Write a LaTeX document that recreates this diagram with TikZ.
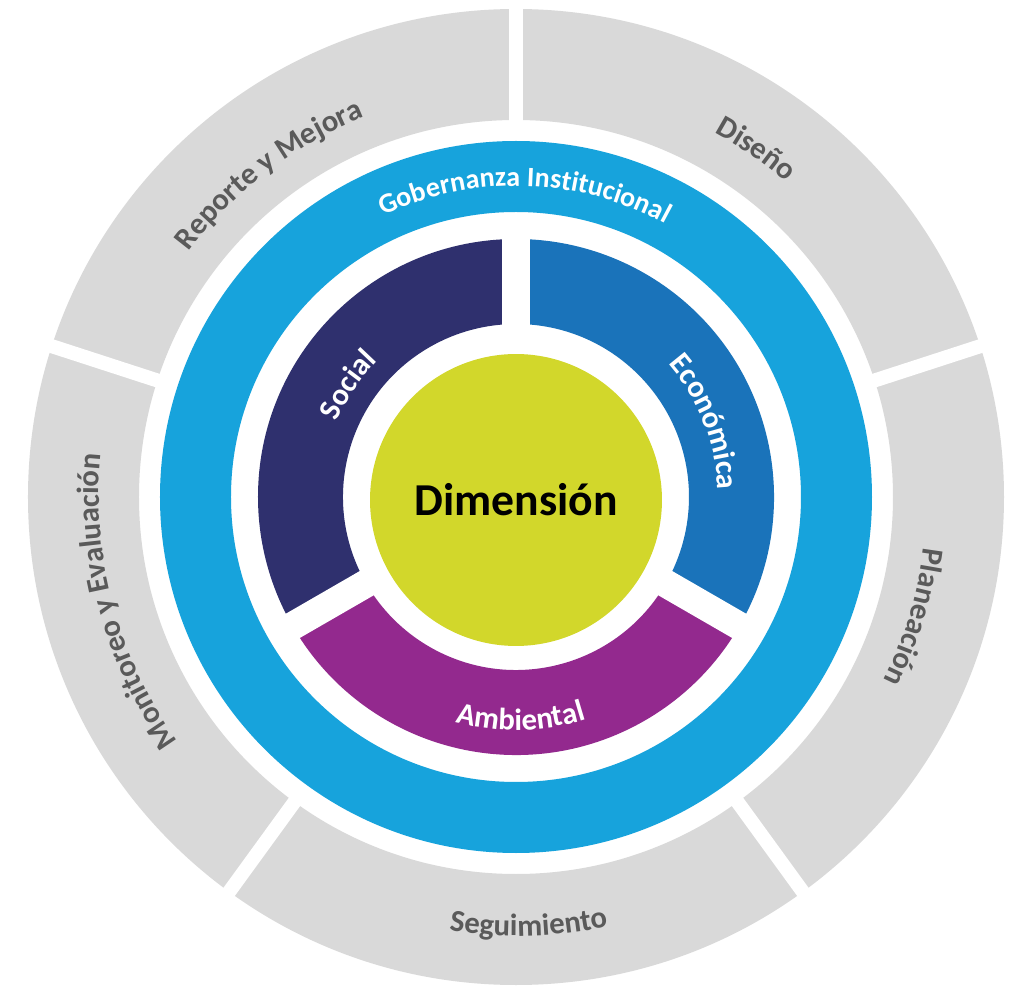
\documentclass[tikz,border=0pt]{standalone}
\usepackage{fontspec}
\setmainfont{Carlito}
\usetikzlibrary{decorations.text}
\definecolor{stagegrey}{HTML}{D9D9D9}
\definecolor{stageink}{HTML}{5A5A5A}
\definecolor{govblue}{HTML}{17A3DC}
\definecolor{socialnavy}{HTML}{2F306E}
\definecolor{econblue}{HTML}{1A73BA}
\definecolor{ambpurple}{HTML}{93298E}
\definecolor{dimyellow}{HTML}{D2D72B}
\newcommand{\stagefont}{\color{stageink}\bfseries\fontsize{17.5}{20}\selectfont}
\newcommand{\pillarfont}{\color{white}\bfseries\fontsize{17.5}{20}\selectfont}
\newcommand{\govfont}{\color{white}\bfseries\fontsize{16}{19}\selectfont}
\tikzset{
  band/.style     = { even odd rule },
  stage/.style    = { band, fill=stagegrey },
  gov/.style      = { band, fill=govblue },
  cut/.style      = { draw=white, line cap=butt },
  stagecut/.style = { cut, line width=0.28cm },
  pillarcut/.style= { cut, line width=0.56cm },
}
\tikzset{
  social/.style   = { fill=socialnavy },
  economic/.style = { fill=econblue },
  ambient/.style  = { fill=ambpurple },
  core/.style     = { circle, fill=dimyellow, minimum size=5.84cm, inner sep=0pt,
                      font=\bfseries\fontsize{26}{30}\selectfont },
  along/.style    = { decorate, decoration={text along path, text align=center, text={#1}} }
}

\begin{document}
\begin{tikzpicture}[x=0.02cm, y=0.02cm]
  \fill[white] (-516,-490) rectangle (509,497);
  \useasboundingbox (-516,-490) rectangle (509,497);

  \fill[stage] (0,0) circle (488) (0,0) circle (377);
  \foreach \a in {18,90,162,234,306}
    \draw[stagecut] (\a:365) -- (\a:500);

  \fill[gov] (0,0) circle (356) (0,0) circle (285);

  \fill[social]   (90:258)  arc[start angle=90,  end angle=210, radius=258]
                  -- (210:173) arc[start angle=210, end angle=90,  radius=173] -- cycle;
  \fill[economic] (-30:258) arc[start angle=-30, end angle=90,  radius=258]
                  -- (90:173)  arc[start angle=90,  end angle=-30, radius=173] -- cycle;
  \fill[ambient]  (210:258) arc[start angle=210, end angle=330, radius=258]
                  -- (330:173) arc[start angle=330, end angle=210, radius=173] -- cycle;
  \foreach \a in {90,210,330}
    \draw[pillarcut] (0,0) -- (\a:270);

  \node (dim) [core] at (0,-3) {Dimensión};

  \path[along={|\stagefont|Reporte y Mejora}]       (162.4:409) arc[start angle=162.4, end angle=92.4,  radius=409];
  \path[along={|\stagefont|Diseño}]                 (90.4:415)  arc[start angle=90.4,  end angle=20.4,  radius=415];
  \path[along={|\stagefont|Planeación}]             (18.2:411)  arc[start angle=18.2,  end angle=-51.8, radius=411];
  \path[along={|\stagefont|Seguimiento}]            (-123.3:439) arc[start angle=-123.3, end angle=-53.3, radius=439];
  \path[along={|\stagefont|Monitoreo y Evaluación}] (235:417)   arc[start angle=235,   end angle=155,   radius=417];

  \path[along={|\govfont|Gobernanza Institucional}] (148.3:311) arc[start angle=148.3, end angle=28.3, radius=311];

  \path[along={|\pillarfont|Social}]    (186.3:194)  arc[start angle=186.3,  end angle=106.3, radius=194];
  \path[along={|\pillarfont|Económica}] (61.6:202)   arc[start angle=61.6,   end angle=-18.4, radius=202];
  \path[along={|\pillarfont|Ambiental}] (-128.8:233) arc[start angle=-128.8, end angle=-48.8, radius=233];
\end{tikzpicture}
\end{document}
